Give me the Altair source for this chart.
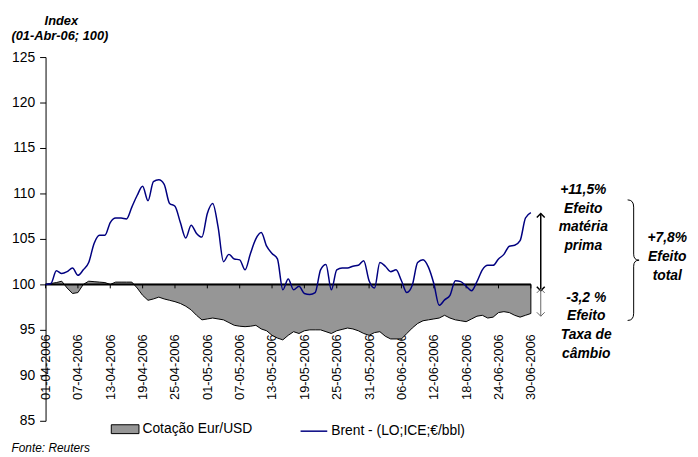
import altair as alt
import pandas as pd

# ---------------- data ----------------
start = "2006-04-01"
end = "2006-06-30"

brent = [100.0, 100.1, 101.5, 101.2, 101.4, 101.8, 101.0, 101.6, 102.4, 104.5,
         105.4, 105.4, 106.8, 107.3, 107.3, 107.2, 108.5, 109.8, 110.8, 109.2,
         111.3, 111.5, 111.0, 108.9, 108.6, 106.8, 105.1, 106.5, 105.6, 105.2,
         107.8, 108.9, 106.3, 102.5, 103.3, 102.8, 102.7, 101.6, 103.4, 105.0,
         105.7, 104.2, 103.4, 102.8, 99.4, 100.6, 99.4, 99.8, 99.0, 98.9,
         99.1, 101.6, 102.2, 99.4, 101.6, 101.8, 101.8, 102.0, 102.1, 102.6,
         100.4, 99.6, 102.4, 102.0, 101.4, 101.6, 100.4, 99.1, 99.9, 102.4,
         102.7, 101.9, 100.1, 97.7, 98.3, 98.8, 100.4, 100.3, 99.8, 99.3,
         100.3, 101.6, 102.1, 102.1, 102.8, 103.3, 104.2, 104.3, 104.8, 107.3,
         107.9]

eur_usd = [100.0, 100.1, 100.2, 100.35, 99.6, 99.0, 99.1, 100.0, 100.35, 100.3,
           100.25, 100.2, 100.0, 100.25, 100.25, 100.25, 100.25, 99.6, 98.8, 98.25,
           98.4, 98.6, 98.4, 98.25, 98.1, 97.9, 97.6, 97.2, 96.6, 96.1,
           96.2, 96.3, 96.2, 96.1, 95.8, 95.5, 95.4, 95.35, 95.4, 95.5,
           95.1, 94.9, 94.4, 94.1, 93.9, 94.4, 94.8, 94.6, 94.9, 95.0,
           95.0, 95.0, 94.8, 94.6, 94.9, 95.05, 95.2, 95.1, 94.9, 94.6,
           94.4, 94.7, 94.8, 94.3, 94.0, 94.0, 94.0, 94.6, 95.2, 95.7,
           96.0, 96.1, 96.2, 96.3, 96.6, 96.3, 96.1, 96.0, 95.9, 96.2,
           96.5, 96.6, 96.3, 96.4, 96.9, 97.0, 96.9, 96.6, 96.4, 96.6,
           96.8]

series_area = "Cotação Eur/USD"
series_line = "Brent - (LO;ICE;€/bbl)"

y_ticks = [85, 90, 95, 100, 105, 110, 115, 120, 125]
base_value = 100

effect_raw = [99.3, 107.8]      # black arrow: matéria prima
effect_fx = [99.5, 96.5]        # grey arrow: taxa de câmbio

txt_raw = ["+11,5%", "Efeito", "matéria", "prima"]
txt_fx = ["-3,2 %", "Efeito", "Taxa de", "câmbio"]
txt_total = ["+7,8%", "Efeito", "total"]
title_lines = ["Index", "(01-Abr-06; 100)"]
source_txt = "Fonte: Reuters"

# ---------------- tables ----------------
dates = pd.date_range(start, periods=len(brent), freq="D").strftime("%Y-%m-%d").tolist()
df = pd.DataFrame({"date": dates, "brent": brent, "eur": eur_usd,
                   "sa": series_area, "sb": series_line})

tick_days = pd.date_range(start, end, freq="6D")
tick_strs = tick_days.strftime("%Y-%m-%d").tolist()
tick_ms = [int(pd.Timestamp(d).tz_localize("UTC").timestamp() * 1000) for d in tick_days]

FONT = "Liberation Sans"

xscale = alt.Scale(type="utc", domain=[tick_ms[0], tick_ms[-1]])
xaxis = alt.Axis(values=tick_ms, labelExpr="utcFormat(datum.value, '%d-%m-%Y')",
                 labelAngle=270, offset=-88, domain=False, ticks=False, tickSize=0,
                 labelPadding=0, grid=False, title=None, labelFont=FONT, labelFontSize=13,
                 labelColor="black", labelOverlap=False, labelBound=False, labelFlush=False)
yscale = alt.Scale(domain=[85, 125], nice=False, zero=False)
yaxis = alt.Axis(values=y_ticks, title=None, grid=False, domainColor="black", domainWidth=1,
                 tickColor="black", tickSize=6, tickWidth=1, labelPadding=5,
                 labelFont=FONT, labelFontSize=14, labelColor="black")

X = alt.X("date:T", scale=xscale, axis=xaxis)

area = alt.Chart(df).mark_area(stroke="black", strokeWidth=1, interpolate="linear").encode(
    x=X,
    y=alt.Y("eur:Q", scale=yscale, axis=yaxis),
    y2=alt.datum(base_value),
    fill=alt.Fill("sa:N", scale=alt.Scale(range=["#969696"]),
                  legend=alt.Legend(orient="none", legendX=66, legendY=362, title=None,
                                    symbolType="M-1,-0.32H1V0.32H-1Z", symbolSize=784,
                                    symbolStrokeColor="black", symbolStrokeWidth=1,
                                    symbolOpacity=1, labelFont=FONT, labelFontSize=14,
                                    labelColor="black", labelOffset=3, padding=0)),
)

base_df = pd.DataFrame({"base": [base_value]})
base_rule = alt.Chart(base_df).mark_rule(color="black", strokeWidth=2).encode(
    y=alt.Y("base:Q", scale=yscale, axis=yaxis)
)

tick_df = pd.DataFrame({"date": tick_strs, "base": base_value})
tick_marks = alt.Chart(tick_df).mark_point(shape="M0,0L0,1", size=64, filled=False,
                                           color="black", strokeWidth=1, opacity=1).encode(
    x=X, y=alt.Y("base:Q", scale=yscale, axis=yaxis)
)

line = alt.Chart(df).mark_line(strokeWidth=1.5, interpolate="monotone").encode(
    x=X,
    y=alt.Y("brent:Q", scale=yscale, axis=yaxis),
    stroke=alt.Stroke("sb:N", scale=alt.Scale(range=["#000080"]),
                      legend=alt.Legend(orient="none", legendX=257, legendY=364, title=None,
                                        symbolType="stroke", symbolSize=729,
                                        symbolStrokeWidth=1.5, labelFont=FONT,
                                        labelFontSize=14, labelColor="black",
                                        labelOffset=3, padding=0)),
)

ARROW_X = 501
UP = "M-1,1L0,0L1,1"
DOWN = "M-1,-1L0,0L1,-1"


def arrow(vals, color, width):
    d = pd.DataFrame({"a": [vals[0]], "b": [vals[1]]})
    shaft = alt.Chart(d).mark_rule(color=color, strokeWidth=width).encode(
        x=alt.value(ARROW_X), y=alt.Y("a:Q", scale=yscale, axis=yaxis), y2="b:Q")
    up_field, down_field = ("b", "a") if vals[1] > vals[0] else ("a", "b")
    head_up = alt.Chart(d).mark_point(shape=UP, size=64, filled=False, color=color,
                                      strokeWidth=width, opacity=1).encode(
        x=alt.value(ARROW_X), y=alt.Y(f"{up_field}:Q", scale=yscale, axis=yaxis))
    head_down = alt.Chart(d).mark_point(shape=DOWN, size=64, filled=False, color=color,
                                        strokeWidth=width, opacity=1).encode(
        x=alt.value(ARROW_X), y=alt.Y(f"{down_field}:Q", scale=yscale, axis=yaxis))
    return [shaft, head_up, head_down]


one = pd.DataFrame({"k": [0]})


def label(lines, x, y, size=14, bold=True, italic=True, align="center"):
    kw = dict(align=align, baseline="alphabetic", font=FONT, fontSize=size,
              lineHeight=19, color="black")
    if bold:
        kw["fontWeight"] = "bold"
    if italic:
        kw["fontStyle"] = "italic"
    return alt.Chart(one).mark_text(**kw).encode(
        x=alt.value(x), y=alt.value(y), text=alt.value(lines))


BRACE = ("M-0.1,-1Q0,-1 0,-0.88L0,-0.1Q0,0 0.09,0Q0,0 0,0.1L0,0.88Q0,1 -0.1,1")
brace = alt.Chart(one).mark_point(shape=BRACE, size=14884, filled=False, color="black",
                                  strokeWidth=1, opacity=1).encode(
    x=alt.value(595), y=alt.value(205.5))

layers = [area, base_rule, tick_marks, line]
layers += arrow(effect_raw, "black", 1.5)
layers += arrow(effect_fx, "#666666", 1)
layers += [
    label(txt_raw, 544, 138.5),
    label(txt_fx, 547, 247.5),
    label(txt_total, 629, 187.5),
    brace,
    label([title_lines[0]], 16, -32.5, size=13),
    label([title_lines[1]], 14.5, -17.5, size=13),
    label([source_txt], -34.5, 399.5, size=12, bold=False, align="left"),
]

chart = alt.layer(*layers).properties(
    width=491, height=368,
    padding={"left": 38, "top": 47, "right": 161, "bottom": 34},
    autosize=alt.AutoSizeParams(type="none"),
    background="white",
).configure_view(strokeWidth=0)

chart.save("out.html", embed_options={"renderer": "svg", "actions": False})
